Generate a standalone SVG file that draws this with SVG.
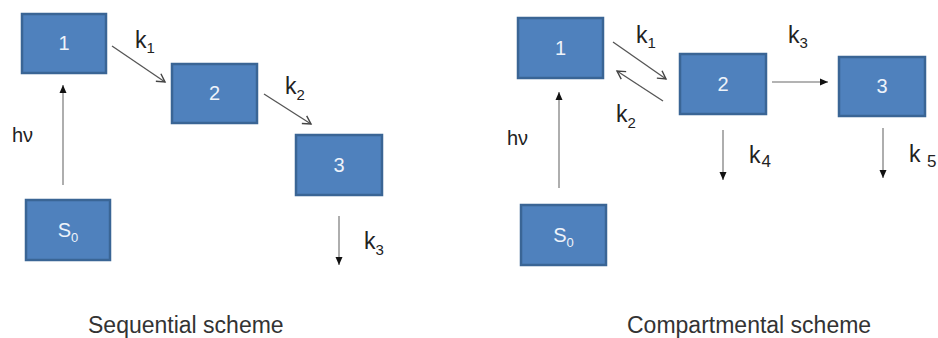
<svg xmlns="http://www.w3.org/2000/svg" width="938" height="338" viewBox="0 0 938 338">
  <style>
    .box { fill: #4F81BD; stroke: #3A6595; stroke-width: 2.5; }
    .num { fill: #EEF3FA; font-family: "Liberation Sans", Arial, sans-serif; font-size: 20px; text-anchor: middle; }
    .numsub { font-size: 13px; }
    .lbl { fill: #222; font-family: "Liberation Sans", Arial, sans-serif; font-size: 23px; }
    .sub { font-size: 15px; }
    .hv { fill: #222; font-family: "Liberation Sans", Arial, sans-serif; font-size: 20px; }
    .title { fill: #333; font-family: "Liberation Sans", Arial, sans-serif; font-size: 23px; }
    .diag { stroke: #555; stroke-width: 1.3; fill: none; marker-end: url(#open); }
    .vert { stroke: #9a9a9a; stroke-width: 1.6; fill: none; marker-end: url(#solid); }
  </style>
  <defs>
    <marker id="open" markerUnits="userSpaceOnUse" markerWidth="12" markerHeight="12" viewBox="0 0 12 12" refX="10" refY="6" orient="auto">
      <path d="M2,1.5 L10,6 L2,10.5" fill="none" stroke="#444" stroke-width="1.4"/>
    </marker>
    <marker id="solid" markerUnits="userSpaceOnUse" markerWidth="10" markerHeight="10" viewBox="0 0 10 10" refX="8" refY="5" orient="auto">
      <path d="M0,1.5 L8,5 L0,8.5 Z" fill="#111"/>
    </marker>
  </defs>

  <rect width="938" height="338" fill="#ffffff"/>

  <!-- Sequential scheme nodes -->
  <g id="seq-1"><rect class="box" x="22" y="14" width="84" height="59"/><text class="num" x="64" y="50">1</text></g>
  <g id="seq-2"><rect class="box" x="172" y="64" width="85" height="59"/><text class="num" x="214.5" y="100">2</text></g>
  <g id="seq-3"><rect class="box" x="296" y="135" width="86" height="60"/><text class="num" x="339" y="172">3</text></g>
  <g id="seq-s0"><rect class="box" x="26" y="200" width="84" height="60"/><text class="num" x="68" y="237">S<tspan class="numsub" dy="5">0</tspan></text></g>

  <!-- Compartmental scheme nodes -->
  <g id="comp-1"><rect class="box" x="518" y="18" width="85" height="60"/><text class="num" x="560.5" y="55">1</text></g>
  <g id="comp-2"><rect class="box" x="680" y="54" width="86" height="60"/><text class="num" x="723" y="91">2</text></g>
  <g id="comp-3"><rect class="box" x="839" y="57" width="86" height="59"/><text class="num" x="882" y="93">3</text></g>
  <g id="comp-s0"><rect class="box" x="521" y="205" width="85" height="60"/><text class="num" x="563.5" y="242">S<tspan class="numsub" dy="5">0</tspan></text></g>

  <!-- Connectors -->
  <g id="connectors">
    <line class="vert" x1="63" y1="185" x2="63" y2="85"/>
    <line class="diag" x1="112" y1="46" x2="165" y2="82"/>
    <line class="diag" x1="264" y1="94" x2="311" y2="124"/>
    <line class="vert" x1="339" y1="216" x2="339" y2="265"/>

    <line class="vert" x1="559" y1="188" x2="559" y2="92"/>
    <line class="diag" x1="613" y1="42" x2="666" y2="79"/>
    <line class="diag" x1="663" y1="101" x2="617" y2="71"/>
    <line class="vert" x1="772" y1="82" x2="828" y2="82"/>
    <line class="vert" x1="723" y1="130" x2="723" y2="180"/>
    <line class="vert" x1="883" y1="128" x2="883" y2="178"/>
  </g>

  <!-- Labels -->
  <g id="labels">
    <text class="hv" x="12" y="142">hν</text>
    <text class="lbl" x="135" y="48">k<tspan class="sub" dy="5">1</tspan></text>
    <text class="lbl" x="285" y="94">k<tspan class="sub" dy="6">2</tspan></text>
    <text class="lbl" x="364" y="249">k<tspan class="sub" dy="6">3</tspan></text>

    <text class="hv" x="507" y="145">hν</text>
    <text class="lbl" x="636" y="43">k<tspan class="sub" dy="5">1</tspan></text>
    <text class="lbl" x="616" y="122">k<tspan class="sub" dy="6">2</tspan></text>
    <text class="lbl" x="788" y="43">k<tspan class="sub" dy="5">3</tspan></text>
    <text class="lbl" x="749" y="163">k<tspan class="sub" dx="1" dy="4" style="font-size:17px">4</tspan></text>
    <text class="lbl" x="909" y="162">k <tspan class="sub" dy="5" style="font-size:17px">5</tspan></text>

    <text class="title" x="88" y="333">Sequential scheme</text>
    <text class="title" x="627" y="333">Compartmental scheme</text>
  </g>
</svg>
